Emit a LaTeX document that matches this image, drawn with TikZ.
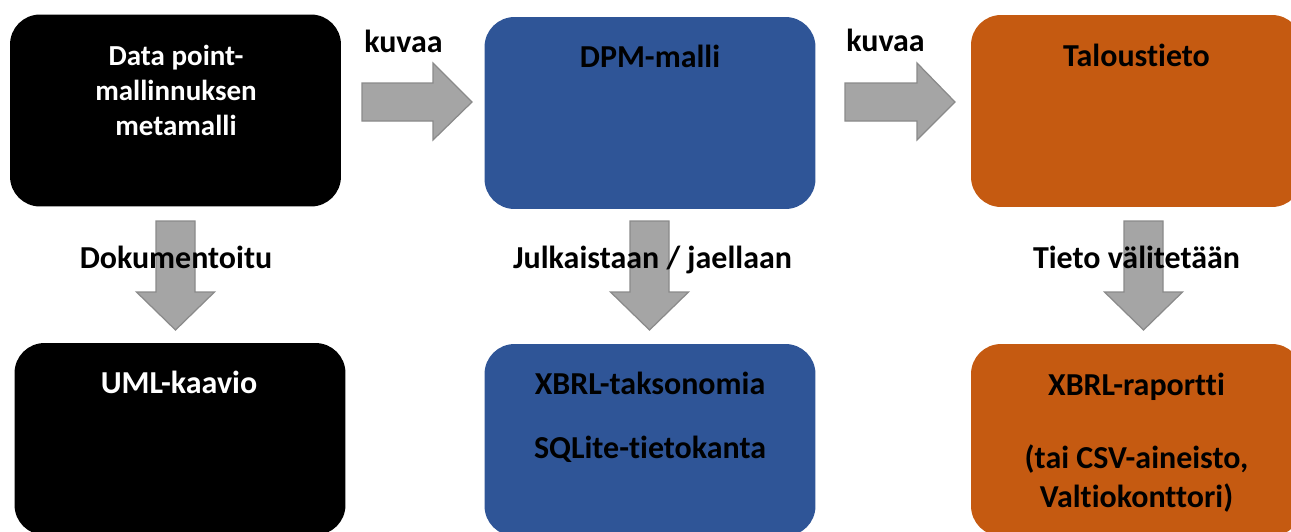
\documentclass[tikz,border=0pt]{standalone}
\usepackage{fontspec}
\setmainfont{Carlito}[Ligatures=NoCommon]
\usetikzlibrary{positioning}
\definecolor{dpmblue}{HTML}{2F5597}
\definecolor{dpmorange}{HTML}{C55A11}
\definecolor{arrowgray}{HTML}{A5A5A5}
\definecolor{arrowedge}{HTML}{8A8A8A}
\tikzset{
	box/.style={rounded corners=0.6cm, minimum width=6.62cm, minimum height=3.84cm, inner sep=0pt},
	boxtext/.style={font=\bfseries\fontsize{18.2}{19.9}\selectfont, align=center, anchor=base, inner sep=0pt},
	lbl/.style={font=\bfseries\fontsize{18.2}{19.9}\selectfont, inner sep=0pt},
	blockarrow/.style={fill=arrowgray, draw=arrowedge, line width=0.7pt, line join=miter}
}
\begin{document}
\begin{tikzpicture}[x=0.02cm,y=-0.02cm]
	\useasboundingbox (0,0) rectangle (1291,531);
	% boxes
	\node[box, fill=black] (meta) at (175.5,110.5) {};
	\node[box, fill=dpmblue] (dpm) at (650,113) {};
	\node[box, fill=dpmorange] (talous) at (1136.5,111) {};
	\node[box, fill=black] (uml) at (180,439) {};
	\node[box, fill=dpmblue] (xbrl) at (650,440) {};
	\node[box, fill=dpmorange] (raportti) at (1136.5,440) {};
	% box texts (base = last line)
	\node[boxtext, text=white, font=\bfseries\fontsize{16.5}{19.9}\selectfont] (metatext) at (176,135) {Data point-\\mallinnuksen\\metamalli};
	\node[boxtext] (dpmtext) at (650,67) {DPM-malli};
	\node[boxtext] (taloustext) at (1136.5,66) {Taloustieto};
	\node[boxtext, text=white] (umltext) at (179,393) {UML-kaavio};
	\node[boxtext] (xbrltext) at (650,458) {XBRL-taksonomia\\[16pt]SQLite-tietokanta};
	\node[boxtext] (raporttitext) at (1136.5,507) {XBRL-raportti\\[21.6pt](tai CSV-aineisto,\\[2.3pt]Valtiokonttori)};
	% block arrows
	\foreach \s/\h/\t in {362/433/472, 845/917/955}
		\draw[blockarrow] (\s,83) -- (\h,83) -- (\h,63) -- (\t,102) -- (\h,140) -- (\h,121) -- (\s,121) -- cycle;
	\foreach \c in {175.5, 649.5, 1143.5}
		\draw[blockarrow] (\c-19.5,221) -- (\c+19.5,221) -- (\c+19.5,292) -- (\c+39,292) -- (\c,330) -- (\c-39,292) -- (\c-19.5,292) -- cycle;
	% labels
	\node[lbl, anchor=base west] (kuvaa1) at (364,52) {kuvaa};
	\node[lbl, anchor=base west] (kuvaa2) at (846,51) {kuvaa};
	\node[lbl, anchor=base] (dok) at (176,268) {Dokumentoitu};
	\node[lbl, anchor=base] (julk) at (652.5,268) {Julkaistaan / jaellaan};
	\node[lbl, anchor=base] (tieto) at (1136.5,268) {Tieto välitetään};
\end{tikzpicture}
\end{document}
